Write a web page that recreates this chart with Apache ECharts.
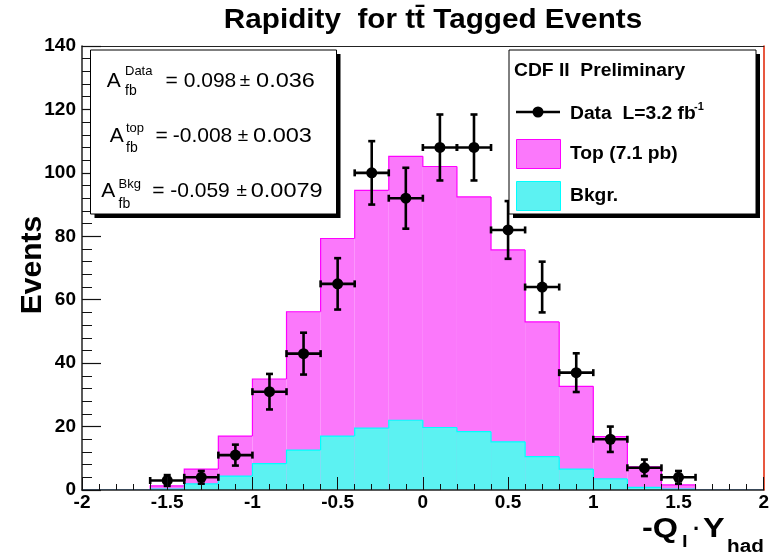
<!DOCTYPE html>
<html>
<head>
<meta charset="utf-8">
<script src="https://cdn.jsdelivr.net/npm/echarts@6/dist/echarts.min.js"></script>
<style>
  html, body { margin: 0; padding: 0; background: #fff; }
  #chart { width: 772px; height: 556px; }
</style>
</head>
<body>
<div id="chart"></div>
<script>
// Histogram binning of -Q_l * Y_had
const binCenters = [-1.9, -1.7, -1.5, -1.3, -1.1, -0.9, -0.7, -0.5, -0.3, -0.1,
                    0.1, 0.3, 0.5, 0.7, 0.9, 1.1, 1.3, 1.5, 1.7, 1.9];
const binWidth = 0.2;

// Expected events per bin: ttbar signal ("Top (7.1 pb)") and background
const topEvents = [0, 0, 1.0, 4.7, 12.6, 26.7, 43.6, 62.3, 75.0, 83.2,
                   82.3, 74.0, 60.5, 42.5, 26.1, 13.3, 6.5, 1.3, 0, 0];
const bkgEvents = [0, 0, 0.3, 1.9, 4.4, 8.3, 12.6, 17.0, 19.5, 22.0,
                   19.7, 18.4, 15.2, 10.5, 6.6, 3.5, 0.8, 0.3, 0, 0];

// Observed data (L = 3.2 fb^-1) with statistical errors
const dataX = [-1.5, -1.3, -1.1, -0.9, -0.7, -0.5, -0.3, -0.1,
               0.1, 0.3, 0.5, 0.7, 0.9, 1.1, 1.3, 1.5];
const dataEvents = [3, 4, 11, 31, 43, 65, 100, 92, 108, 108, 82, 64, 37, 16, 7, 4];
const dataErrors = [1.7, 2.0, 3.3, 5.6, 6.6, 8.1, 10.0, 9.6, 10.4, 10.4, 9.1, 8.0, 6.1, 4.0, 2.6, 2.0];

// Axis ranges
const xRange = { min: -2, max: 2, interval: 0.5 };
const yRange = { min: 0, max: 140, interval: 20 };

// Forward-backward asymmetry results shown in the info box
const asymLabels = ['Data', 'top', 'Bkg'];
const asymValues = ['0.098', '-0.008', '-0.059'];
const asymErrors = ['0.036', '0.003', '0.0079'];

const FONT = '"Liberation Sans", Arial, Helvetica, sans-serif';

// Fill colours of the stacked histograms
const pinkFill = '#fb78fb';
const cyanFill = '#5cf2f2';

// Stacked totals: background sits under the signal
const totalEvents = topEvents.map((v, i) => v + bkgEvents[i]);

function histSeries(name, heights, fill, stroke, z) {
  return {
    type: 'custom',
    name: name,
    z: z,
    clip: true,
    data: binCenters.map((c, i) => [c - binWidth / 2, c + binWidth / 2, heights[i], i > 0 ? heights[i - 1] : 0]),
    renderItem: function (params, api) {
      const x0 = api.value(0), x1 = api.value(1), h = api.value(2), prev = api.value(3);
      const p00 = api.coord([x0, 0]);
      const p11 = api.coord([x1, h]);
      const children = [];
      if (h > 0) {
        children.push({
          type: 'rect',
          shape: { x: p00[0], y: p11[1], width: p11[0] - p00[0], height: p00[1] - p11[1] },
          style: { fill: fill }
        });
      }
      const a = api.coord([x0, prev]);
      const b = api.coord([x0, h]);
      const c = api.coord([x1, h]);
      children.push({
        type: 'polyline',
        shape: { points: [a, b, c] },
        style: { stroke: stroke, lineWidth: 1.2, fill: null }
      });
      return { type: 'group', children: children };
    }
  };
}

const dataSeries = {
  type: 'custom',
  name: 'Data',
  z: 5,
  clip: false,
  data: dataX.map((x, i) => [x, dataEvents[i], dataErrors[i]]),
  renderItem: function (params, api) {
    const x = api.value(0), y = api.value(1), e = api.value(2);
    const c = api.coord([x, y]);
    const l = api.coord([x - binWidth / 2, y]);
    const r = api.coord([x + binWidth / 2, y]);
    const t = api.coord([x, y + e]);
    const b = api.coord([x, y - e]);
    const st = { stroke: '#000', lineWidth: 2.6, fill: null };
    const cap = 3.5;
    return {
      type: 'group',
      children: [
        { type: 'line', shape: { x1: l[0], y1: l[1], x2: r[0], y2: r[1] }, style: st },
        { type: 'line', shape: { x1: l[0], y1: l[1] - cap, x2: l[0], y2: l[1] + cap }, style: st },
        { type: 'line', shape: { x1: r[0], y1: r[1] - cap, x2: r[0], y2: r[1] + cap }, style: st },
        { type: 'line', shape: { x1: t[0], y1: t[1], x2: b[0], y2: b[1] }, style: st },
        { type: 'line', shape: { x1: t[0] - cap, y1: t[1], x2: t[0] + cap, y2: t[1] }, style: st },
        { type: 'line', shape: { x1: b[0] - cap, y1: b[1], x2: b[0] + cap, y2: b[1] }, style: st },
        { type: 'circle', shape: { cx: c[0], cy: c[1], r: 5.5 }, style: { fill: '#000' } }
      ]
    };
  }
};

function txt(x, y, text, size, opts) {
  opts = opts || {};
  return {
    type: 'text',
    x: x, y: y,
    z: 20,
    scaleX: opts.scaleX || 1,
    rotation: opts.rotation || 0,
    style: {
      text: text,
      fill: '#000',
      font: (opts.bold ? 'bold ' : '') + size + 'px ' + FONT,
      textAlign: opts.align || 'left',
      textVerticalAlign: 'middle'
    }
  };
}

const graphics = [];

// Title
graphics.push(txt(433, 20, 'Rapidity  for tt\u0304 Tagged Events', 28, { bold: true, align: 'center', scaleX: 1.06 }));

// Y-axis title
graphics.push(txt(33, 265, 'Events', 30, { bold: true, align: 'center', rotation: Math.PI / 2 }));

// X-axis title: -Q_l . Y_had
graphics.push(txt(642, 530, '-Q', 27, { bold: true, scaleX: 1.2 }));
graphics.push(txt(682, 542, 'l', 17, { bold: true, scaleX: 1.2 }));
graphics.push(txt(693, 530, '\u00b7', 22, { bold: true }));
graphics.push(txt(703, 530, 'Y', 27, { bold: true, scaleX: 1.2 }));
graphics.push(txt(727, 547, 'had', 18, { bold: true, scaleX: 1.15 }));

// Asymmetry box with shadow
graphics.push({ type: 'rect', z: 15, shape: { x: 94.5, y: 54, width: 246, height: 164 }, style: { fill: '#000' } });
graphics.push({ type: 'rect', z: 16, shape: { x: 90.5, y: 50, width: 246, height: 164 }, style: { fill: '#fff', stroke: '#000', lineWidth: 1 } });
const asymRows = [
  { yc: 81, aX: 113.7, supX: 125, subX: 125, supY: 71, subY: 91, eqX: 171.7, valX: 210, pmX: 245, errX: 285.5 },
  { yc: 136, aX: 116.7, supX: 126, subX: 126, supY: 128, subY: 148, eqX: 161.7, valX: 202.5, pmX: 243, errX: 282.5 },
  { yc: 191, aX: 108.3, supX: 118.5, subX: 118.5, supY: 184, subY: 204, eqX: 158.3, valX: 200, pmX: 241.7, errX: 286.7 }
];
asymRows.forEach((r, i) => {
  graphics.push(txt(r.aX, r.yc, 'A', 21, { align: 'center' }));
  graphics.push(txt(r.supX, r.supY, asymLabels[i], 13));
  graphics.push(txt(r.subX, r.subY, 'fb', 14));
  graphics.push(txt(r.eqX, r.yc, '=', 21, { align: 'center' }));
  graphics.push(txt(r.valX, r.yc, asymValues[i], 21, { align: 'center' }));
  graphics.push(txt(r.pmX, r.yc, '\u00b1', 19, { align: 'center' }));
  graphics.push(txt(r.errX, r.yc, asymErrors[i], 21, { align: 'center', scaleX: 1.12 }));
});

// Legend box with shadow
graphics.push({ type: 'rect', z: 15, shape: { x: 513, y: 54, width: 247, height: 164 }, style: { fill: '#000' } });
graphics.push({ type: 'rect', z: 16, shape: { x: 509, y: 50, width: 247, height: 164 }, style: { fill: '#fff', stroke: '#000', lineWidth: 1 } });
graphics.push(txt(514, 71, 'CDF II  Preliminary', 18, { bold: true, scaleX: 1.07 }));
graphics.push({ type: 'line', z: 20, shape: { x1: 516, y1: 112, x2: 560, y2: 112 }, style: { stroke: '#000', lineWidth: 2.6 } });
graphics.push({ type: 'circle', z: 20, shape: { cx: 538, cy: 112, r: 5.5 }, style: { fill: '#000' } });
graphics.push(txt(570, 114, 'Data  L=3.2 fb', 18, { bold: true, scaleX: 1.07 }));
graphics.push(txt(694, 107, '-1', 11, { bold: true }));
graphics.push({ type: 'rect', z: 20, shape: { x: 516.5, y: 139.5, width: 44, height: 29 }, style: { fill: pinkFill, stroke: '#ff00ff', lineWidth: 1 } });
graphics.push(txt(570, 154, 'Top (7.1 pb)', 18, { bold: true, scaleX: 1.07 }));
graphics.push({ type: 'rect', z: 20, shape: { x: 516.5, y: 181.5, width: 44, height: 29 }, style: { fill: cyanFill, stroke: '#00ffff', lineWidth: 1 } });
graphics.push(txt(570, 196, 'Bkgr.', 18, { bold: true, scaleX: 1.07 }));

const chart = echarts.init(document.getElementById('chart'), null, { renderer: 'canvas' });
chart.setOption({
  animation: false,
  backgroundColor: '#fff',
  grid: { left: 82, right: 8, top: 46, bottom: 66, containLabel: false },
  xAxis: [
    {
      type: 'value', min: xRange.min, max: xRange.max, interval: xRange.interval,
      z: 8,
      axisLine: { show: true, onZero: false, lineStyle: { color: '#222', width: 1.5 } },
      axisTick: { show: true, inside: true, length: 13, lineStyle: { color: '#111', width: 1 } },
      minorTick: { show: true, splitNumber: 5, length: 6, lineStyle: { color: '#111', width: 1 } },
      splitLine: { show: false },
      axisLabel: { color: '#000', fontFamily: FONT, fontWeight: 'bold', fontSize: 19, margin: 3 }
    },
    {
      type: 'value', position: 'top', min: xRange.min, max: xRange.max,
      z: 8,
      axisLine: { show: true, onZero: false, lineStyle: { color: '#222', width: 1.2 } },
      axisTick: { show: false }, axisLabel: { show: false }, splitLine: { show: false }
    }
  ],
  yAxis: [
    {
      type: 'value', min: yRange.min, max: yRange.max, interval: yRange.interval,
      z: 8,
      axisLine: { show: true, onZero: false, lineStyle: { color: '#222', width: 1.5 } },
      axisTick: { show: true, inside: true, length: 19, lineStyle: { color: '#111', width: 1.2 } },
      minorTick: { show: true, splitNumber: 5, length: 10, lineStyle: { color: '#111', width: 1 } },
      splitLine: { show: false },
      axisLabel: { color: '#000', fontFamily: FONT, fontWeight: 'bold', fontSize: 19, margin: 6 }
    },
    {
      type: 'value', position: 'right', min: yRange.min, max: yRange.max,
      z: 8,
      axisLine: { show: true, onZero: false, lineStyle: { color: '#e02000', width: 1.5 } },
      axisTick: { show: false }, axisLabel: { show: false }, splitLine: { show: false }
    }
  ],
  series: [
    histSeries('Top (7.1 pb)', totalEvents, pinkFill, '#ff00ff', 2),
    histSeries('Bkgr.', bkgEvents, cyanFill, '#00ffff', 3),
    dataSeries
  ],
  graphic: { elements: graphics }
});
</script>
</body>
</html>
